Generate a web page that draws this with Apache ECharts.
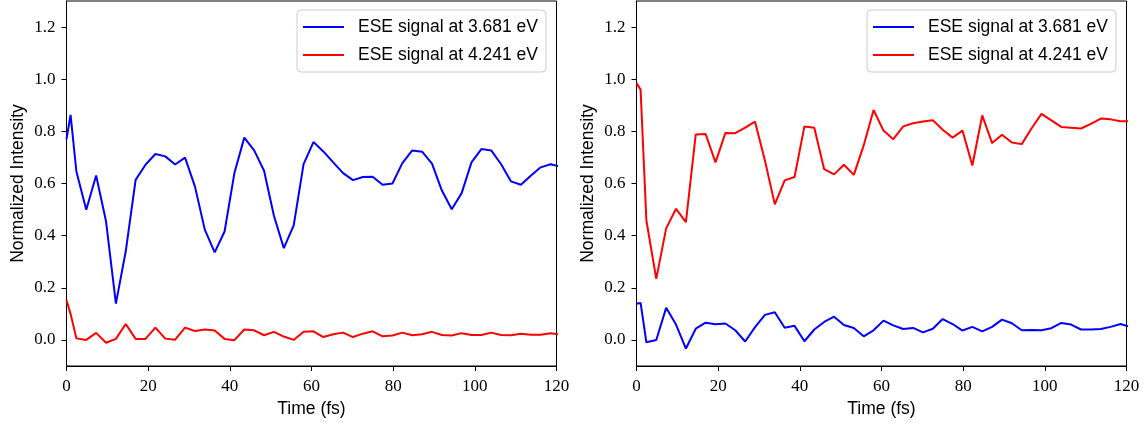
<!DOCTYPE html>
<html>
<head>
<meta charset="utf-8">
<script src="https://cdn.jsdelivr.net/npm/echarts@6/dist/echarts.min.js"></script>
<style>html,body{margin:0;padding:0;background:#fff}#c{width:1146px;height:425px}</style>
</head>
<body>
<div id="c"></div>
<script>
const times = [0, 1.0, 2.42, 4.84, 7.26, 9.68, 12.10, 14.51, 16.93, 19.35, 21.77, 24.19, 26.61, 29.03, 31.45, 33.87, 36.29, 38.71, 41.12, 43.54, 45.96, 48.38, 50.80, 53.22, 55.64, 58.06, 60.48, 62.90, 65.32, 67.74, 70.16, 72.57, 74.99, 77.41, 79.83, 82.25, 84.67, 87.09, 89.51, 91.93, 94.35, 96.77, 99.18, 101.60, 104.02, 106.44, 108.86, 111.28, 113.70, 116.12, 118.54, 120.96];

const leftBlue = [0.77, 0.863, 0.646, 0.499, 0.631, 0.455, 0.139, 0.34, 0.614, 0.672, 0.713, 0.704, 0.673, 0.699, 0.589, 0.423, 0.336, 0.416, 0.64, 0.776, 0.727, 0.649, 0.476, 0.352, 0.439, 0.674, 0.759, 0.723, 0.681, 0.64, 0.613, 0.625, 0.626, 0.595, 0.6, 0.678, 0.727, 0.722, 0.676, 0.573, 0.501, 0.563, 0.681, 0.732, 0.727, 0.674, 0.608, 0.595, 0.63, 0.662, 0.674, 0.665];
const leftRed = [0.152, 0.10, 0.006, 0.0, 0.027, -0.011, 0.004, 0.061, 0.004, 0.004, 0.047, 0.005, 0.001, 0.047, 0.034, 0.04, 0.036, 0.004, -0.001, 0.04, 0.037, 0.018, 0.031, 0.013, 0.0, 0.031, 0.033, 0.011, 0.022, 0.028, 0.011, 0.024, 0.033, 0.014, 0.017, 0.028, 0.018, 0.022, 0.031, 0.019, 0.017, 0.026, 0.019, 0.019, 0.028, 0.019, 0.018, 0.024, 0.02, 0.02, 0.026, 0.02];
const rightBlue = [0.139, 0.142, -0.009, 0.0, 0.123, 0.059, -0.033, 0.043, 0.066, 0.06, 0.063, 0.037, -0.006, 0.049, 0.096, 0.106, 0.047, 0.054, -0.005, 0.04, 0.069, 0.089, 0.057, 0.046, 0.014, 0.037, 0.074, 0.056, 0.042, 0.046, 0.029, 0.043, 0.08, 0.061, 0.036, 0.05, 0.033, 0.05, 0.078, 0.064, 0.037, 0.038, 0.037, 0.045, 0.065, 0.059, 0.04, 0.04, 0.042, 0.05, 0.061, 0.05];
const rightRed = [0.985, 0.96, 0.458, 0.234, 0.428, 0.503, 0.452, 0.788, 0.79, 0.681, 0.794, 0.793, 0.814, 0.837, 0.688, 0.52, 0.612, 0.625, 0.819, 0.814, 0.655, 0.635, 0.672, 0.633, 0.746, 0.882, 0.803, 0.77, 0.819, 0.831, 0.838, 0.843, 0.806, 0.776, 0.803, 0.669, 0.861, 0.755, 0.787, 0.757, 0.751, 0.812, 0.867, 0.842, 0.817, 0.814, 0.811, 0.829, 0.849, 0.846, 0.839, 0.839];

const yTicks = [0.0, 0.2, 0.4, 0.6, 0.8, 1.0, 1.2];
const xTicks = [0, 20, 40, 60, 80, 100, 120];
const seriesNames = ['ESE signal at 3.681 eV', 'ESE signal at 4.241 eV'];
const colors = ['#0000ff', '#ff0000'];

const pair = (xs, ys) => xs.map((x, i) => [x, ys[i]]);

const serifFont = '"Liberation Serif", "DejaVu Serif", serif';
const sansFont = '"Liberation Sans", "DejaVu Sans", sans-serif';

function makeX(gi) {
  return {
    gridIndex: gi, type: 'value', min: xTicks[0], max: xTicks[xTicks.length - 1], interval: 20,
    name: 'Time (fs)', nameLocation: 'middle', nameGap: 31,
    nameTextStyle: { fontFamily: sansFont, fontSize: 17.5, color: '#000' },
    axisLine: { show: true, onZero: false, lineStyle: { color: '#000', width: 1 } },
    axisTick: { show: true, inside: false, length: 5, lineStyle: { color: '#000' } },
    axisLabel: { fontFamily: serifFont, fontSize: 17, color: '#000', margin: 12 },
    splitLine: { show: false }
  };
}
function makeY(gi) {
  return {
    gridIndex: gi, type: 'value', min: -0.1, max: 1.3,
    name: 'Normalized Intensity', nameLocation: 'middle', nameGap: 39,
    nameTextStyle: { fontFamily: sansFont, fontSize: 17.5, color: '#000' },
    axisLine: { show: true, onZero: false, lineStyle: { color: '#000', width: 1 } },
    axisTick: { show: true, inside: false, length: 5, lineStyle: { color: '#000' }, customValues: yTicks },
    axisLabel: { fontFamily: serifFont, fontSize: 17, color: '#000', margin: 11, customValues: yTicks,
      formatter: v => Number(v).toFixed(1) },
    splitLine: { show: false }
  };
}
function makeSeries(gi, name, color, data) {
  return {
    type: 'line', name, xAxisIndex: gi, yAxisIndex: gi, data,
    showSymbol: false, symbol: 'none', clip: true, animation: false,
    lineStyle: { color, width: 2 }, itemStyle: { color }
  };
}
function makeLegend(left) {
  return {
    left, top: 10, orient: 'vertical', data: seriesNames,
    icon: 'rect', itemWidth: 41, itemHeight: 2, itemGap: 10,
    backgroundColor: '#fff', borderColor: '#cccccc', borderWidth: 1, borderRadius: 4,
    padding: [8, 8, 8, 6],
    textStyle: { fontFamily: sansFont, fontSize: 17.5, color: '#000', lineHeight: 18, padding: [0, 0, 0, 9] },
    selectedMode: false
  };
}

const chart = echarts.init(document.getElementById('c'), null, { renderer: 'canvas' });
chart.setOption({
  animation: false,
  backgroundColor: '#fff',
  grid: [
    { left: 66.5, top: 1, width: 490, height: 365, show: true, borderColor: '#000', borderWidth: 1, backgroundColor: 'transparent' },
    { left: 636.5, top: 1, width: 490, height: 365, show: true, borderColor: '#000', borderWidth: 1, backgroundColor: 'transparent' }
  ],
  xAxis: [makeX(0), makeX(1)],
  yAxis: [makeY(0), makeY(1)],
  legend: [makeLegend(297), makeLegend(867)],
  series: [
    makeSeries(0, seriesNames[0], colors[0], pair(times, leftBlue)),
    makeSeries(0, seriesNames[1], colors[1], pair(times, leftRed)),
    makeSeries(1, seriesNames[0], colors[0], pair(times, rightBlue)),
    makeSeries(1, seriesNames[1], colors[1], pair(times, rightRed))
  ]
});
</script>
</body>
</html>
